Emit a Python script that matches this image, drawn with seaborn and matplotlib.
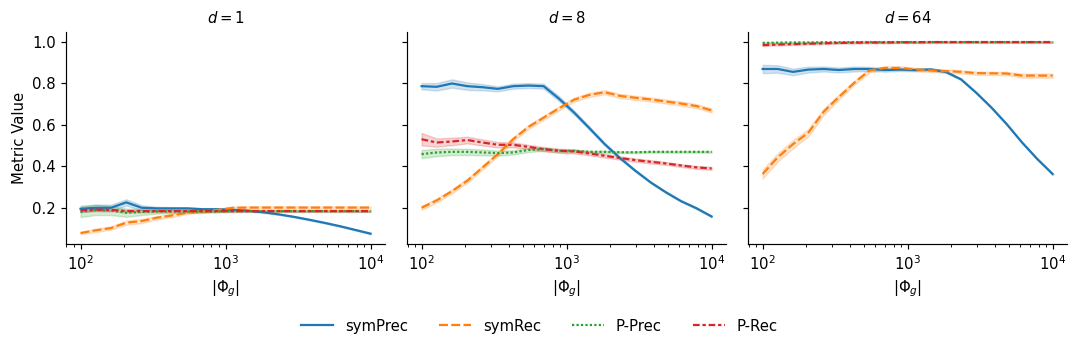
import numpy as np
import pandas as pd
import matplotlib
matplotlib.use("Agg")
import matplotlib.pyplot as plt
import seaborn as sns

sizes = [100, 127, 162, 207, 264, 336, 428, 546, 695, 886, 1129, 1438, 1833,
         2336, 2976, 3793, 4833, 6158, 7848, 10000]
metrics = ["symPrec", "symRec", "P-Prec", "P-Rec"]
dims = [1, 8, 64]

# mean values per d
d1_symPrec = [0.195, 0.200, 0.200, 0.226, 0.200, 0.197, 0.197, 0.197, 0.193, 0.193,
              0.190, 0.186, 0.178, 0.168, 0.156, 0.142, 0.127, 0.111, 0.093, 0.075]
d1_symRec = [0.078, 0.091, 0.102, 0.128, 0.136, 0.152, 0.163, 0.176, 0.182, 0.190,
             0.200, 0.201, 0.201, 0.201, 0.201, 0.201, 0.201, 0.201, 0.201, 0.201]
d1_PPrec = [0.180, 0.190, 0.187, 0.176, 0.180, 0.182, 0.182, 0.182, 0.182, 0.182,
            0.184, 0.184, 0.184, 0.184, 0.184, 0.184, 0.184, 0.184, 0.184, 0.184]
d1_PRec = [0.188, 0.191, 0.190, 0.184, 0.184, 0.184, 0.184, 0.184, 0.184, 0.184,
           0.184, 0.184, 0.184, 0.184, 0.184, 0.184, 0.184, 0.184, 0.184, 0.184]

d8_symPrec = [0.787, 0.784, 0.800, 0.787, 0.782, 0.774, 0.787, 0.790, 0.787, 0.727,
              0.659, 0.584, 0.507, 0.440, 0.379, 0.323, 0.275, 0.232, 0.198, 0.158]
d8_symRec = [0.200, 0.235, 0.280, 0.331, 0.395, 0.459, 0.531, 0.590, 0.635, 0.680,
             0.722, 0.745, 0.758, 0.740, 0.731, 0.723, 0.713, 0.703, 0.691, 0.670]
d8_PPrec = [0.459, 0.467, 0.470, 0.470, 0.467, 0.464, 0.467, 0.479, 0.483, 0.475,
            0.475, 0.470, 0.470, 0.468, 0.468, 0.470, 0.470, 0.470, 0.470, 0.470]
d8_PRec = [0.531, 0.515, 0.520, 0.527, 0.515, 0.504, 0.504, 0.494, 0.483, 0.475,
           0.472, 0.462, 0.451, 0.440, 0.430, 0.422, 0.414, 0.404, 0.395, 0.390]

d64_symPrec = [0.870, 0.870, 0.856, 0.867, 0.870, 0.865, 0.870, 0.870, 0.865, 0.867,
               0.865, 0.868, 0.856, 0.820, 0.755, 0.683, 0.603, 0.515, 0.435, 0.363]
d64_symRec = [0.363, 0.443, 0.507, 0.563, 0.664, 0.735, 0.803, 0.863, 0.875, 0.875,
              0.868, 0.863, 0.860, 0.856, 0.850, 0.849, 0.848, 0.838, 0.838, 0.838]
d64_PPrec = [0.996, 0.997, 0.998, 0.998, 0.999, 0.999, 1.000, 1.000, 1.000, 1.000,
             1.000, 1.000, 1.000, 1.000, 1.000, 1.000, 1.000, 1.000, 1.000, 1.000]
d64_PRec = [0.985, 0.988, 0.990, 0.992, 0.994, 0.996, 0.997, 0.998, 0.998, 0.999,
            0.999, 1.000, 1.000, 1.000, 1.000, 1.000, 1.000, 1.000, 1.000, 1.000]

# half-widths of the shaded confidence bands
d1_symPrec_ci = [0.015, 0.015, 0.015, 0.015, 0.012, 0.008, 0.006, 0.005, 0.005, 0.004,
                 0.004, 0.003, 0.003, 0.003, 0.003, 0.003, 0.003, 0.003, 0.003, 0.003]
d1_symRec_ci = [0.006, 0.008, 0.008, 0.010, 0.010, 0.008, 0.008, 0.006, 0.006, 0.006,
                0.006, 0.006, 0.006, 0.006, 0.006, 0.006, 0.006, 0.006, 0.006, 0.006]
d1_PPrec_ci = [0.025, 0.025, 0.022, 0.020, 0.015, 0.010, 0.008, 0.006, 0.006, 0.005,
               0.005, 0.004, 0.004, 0.004, 0.004, 0.004, 0.004, 0.004, 0.004, 0.004]
d1_PRec_ci = [0.008, 0.007, 0.007, 0.006, 0.006, 0.005, 0.005, 0.005, 0.004, 0.004,
              0.004, 0.004, 0.004, 0.004, 0.004, 0.004, 0.004, 0.004, 0.004, 0.004]

d8_symPrec_ci = [0.015, 0.018, 0.020, 0.018, 0.015, 0.012, 0.012, 0.012, 0.012, 0.012,
                 0.010, 0.008, 0.007, 0.006, 0.005, 0.004, 0.004, 0.004, 0.004, 0.004]
d8_symRec_ci = [0.010, 0.010, 0.010, 0.010, 0.010, 0.010, 0.010, 0.010, 0.010, 0.010,
                0.010, 0.010, 0.010, 0.010, 0.010, 0.010, 0.010, 0.010, 0.010, 0.010]
d8_PPrec_ci = [0.020, 0.018, 0.016, 0.015, 0.014, 0.012, 0.010, 0.010, 0.008, 0.007,
               0.006, 0.005, 0.005, 0.004, 0.004, 0.004, 0.004, 0.004, 0.004, 0.004]
d8_PRec_ci = [0.030, 0.020, 0.018, 0.016, 0.015, 0.013, 0.012, 0.010, 0.010, 0.010,
              0.010, 0.009, 0.009, 0.008, 0.008, 0.008, 0.007, 0.007, 0.007, 0.007]

d64_symPrec_ci = [0.020, 0.018, 0.016, 0.014, 0.012, 0.012, 0.012, 0.010, 0.008, 0.007,
                  0.006, 0.006, 0.005, 0.004, 0.004, 0.004, 0.004, 0.004, 0.004, 0.004]
d64_symRec_ci = [0.022, 0.020, 0.020, 0.018, 0.015, 0.012, 0.010, 0.010, 0.008, 0.008,
                 0.008, 0.008, 0.008, 0.008, 0.008, 0.008, 0.008, 0.010, 0.010, 0.010]
d64_PPrec_ci = [0.003] * 20
d64_PRec_ci = [0.004] * 20

means = {
    1: [d1_symPrec, d1_symRec, d1_PPrec, d1_PRec],
    8: [d8_symPrec, d8_symRec, d8_PPrec, d8_PRec],
    64: [d64_symPrec, d64_symRec, d64_PPrec, d64_PRec],
}
halfwidths = {
    1: [d1_symPrec_ci, d1_symRec_ci, d1_PPrec_ci, d1_PRec_ci],
    8: [d8_symPrec_ci, d8_symRec_ci, d8_PPrec_ci, d8_PRec_ci],
    64: [d64_symPrec_ci, d64_symRec_ci, d64_PPrec_ci, d64_PRec_ci],
}

rows = []
for d in dims:
    for m, vals, hws in zip(metrics, means[d], halfwidths[d]):
        for x, v, h in zip(sizes, vals, hws):
            for off in (-h, 0.0, h):
                rows.append({"size": x, "value": v + off, "metric": m, "d": d})
df = pd.DataFrame(rows)

s = 1.07
plt.rcParams.update({
    "font.size": 10 * s,
    "lines.linewidth": 1.5 * s,
    "axes.linewidth": 0.8 * s,
    "xtick.major.size": 3.5 * s, "ytick.major.size": 3.5 * s,
    "xtick.minor.size": 2.0 * s, "ytick.minor.size": 2.0 * s,
    "xtick.major.width": 0.8 * s, "ytick.major.width": 0.8 * s,
    "xtick.minor.width": 0.6 * s, "ytick.minor.width": 0.6 * s,
})

palette = ["#1f77b4", "#ff7f0e", "#2ca02c", "#d62728"]

g = sns.relplot(
    data=df, x="size", y="value", hue="metric", style="metric", col="d",
    kind="line", hue_order=metrics, style_order=metrics, palette=palette,
    errorbar=("pi", 100), estimator="mean",
    height=3.0, aspect=1.2, facet_kws={"sharey": True, "sharex": True},
)
g.set(xscale="log")
g.set_titles(r"$d = {col_name}$")
g.set_axis_labels(r"$|\Phi_g|$", "Metric Value")

fig = g.figure
fig.set_size_inches(10.79, 3.47)
fig.subplots_adjust(left=0.0612, right=0.989, top=0.909, bottom=0.297, wspace=0.069)
sns.move_legend(g, "lower center", bbox_to_anchor=(0.5, 0.0), ncol=4, title=None,
                frameon=False, handlelength=2.15, columnspacing=2.1)
fig.savefig("out.png", dpi=100)
